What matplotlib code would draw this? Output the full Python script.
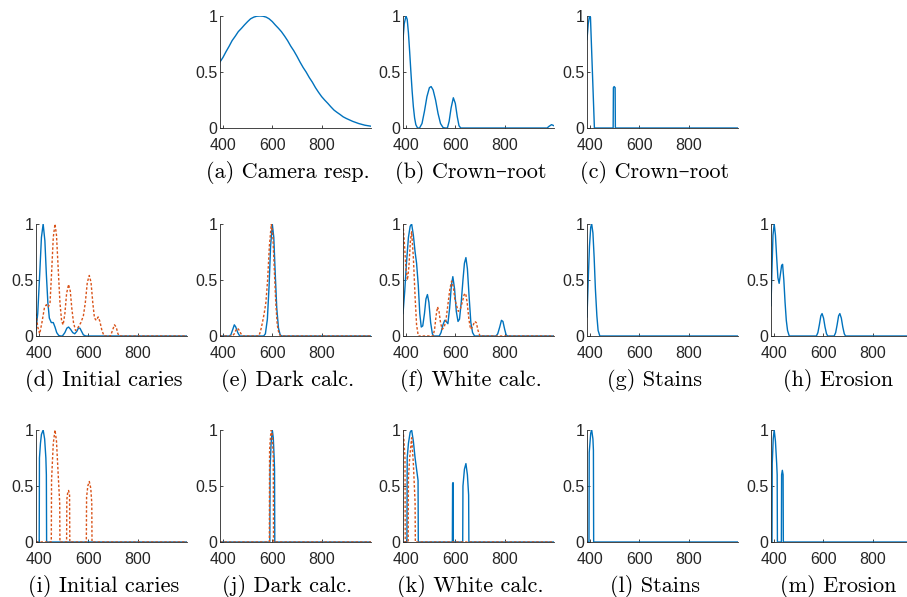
import matplotlib
matplotlib.use("Agg")
from matplotlib import pyplot as plt

# (a) camera response
wl_cam = [388, 400, 412, 425, 437, 450, 462, 475, 487, 500, 512, 525, 537, 550, 562, 575,
          587, 600, 612, 625, 637, 650, 662, 675, 687, 700, 712, 725, 737, 750, 762, 775,
          787, 800, 812, 825, 837, 850, 862, 875, 887, 900, 925, 950, 975, 1000]
cam_resp = [0.59, 0.63, 0.68, 0.73, 0.78, 0.82, 0.86, 0.89, 0.92, 0.95, 0.975, 0.99, 0.998,
            1.0, 0.998, 0.99, 0.975, 0.95, 0.92, 0.89, 0.86, 0.82, 0.78, 0.73, 0.69, 0.64,
            0.59, 0.54, 0.5, 0.45, 0.41, 0.36, 0.32, 0.28, 0.25, 0.22, 0.19, 0.16, 0.14,
            0.12, 0.1, 0.085, 0.06, 0.04, 0.025, 0.016]

# (b) crown-root
wl_crown = [388, 393, 400, 405, 410, 415, 420, 425, 430, 435, 440, 447, 455, 465, 475, 485,
            495, 502, 510, 520, 530, 540, 550, 558, 568, 575, 583, 592, 600, 608, 615, 622,
            972, 980, 990, 1000]
crown = [0.79, 0.93, 1.0, 0.97, 0.85, 0.68, 0.5, 0.33, 0.19, 0.09, 0.03, 0.0, 0.0, 0.04,
         0.15, 0.28, 0.36, 0.37, 0.34, 0.25, 0.13, 0.04, 0.005, 0.0, 0.0, 0.06, 0.18, 0.27,
         0.22, 0.1, 0.02, 0.0, 0.0, 0.015, 0.03, 0.02]

# (c) crown-root, selected bands
wl_crown_sel = [388, 393, 398, 402, 418, 494, 495, 498, 502, 503, 1000]
crown_sel = [0.79, 0.93, 1.0, 0.99, 0.0, 0.0, 0.36, 0.37, 0.36, 0.0, 0.0]

# (d) initial caries
wl_car_b = [388, 395, 403, 410, 417, 424, 430, 436, 442, 450, 458, 465, 472, 480, 488, 495,
            505, 513, 520, 528, 537, 545, 553, 560, 566, 573, 580, 590, 1000]
car_b = [0.05, 0.2, 0.55, 0.88, 1.0, 0.85, 0.55, 0.3, 0.16, 0.12, 0.12, 0.08, 0.03, 0.005,
         0.0, 0.0, 0.03, 0.07, 0.08, 0.06, 0.03, 0.02, 0.04, 0.07, 0.07, 0.04, 0.01, 0.0, 0.0]
wl_car_o = [388, 395, 403, 412, 422, 430, 438, 445, 452, 458, 465, 471, 478, 485, 492, 498,
            505, 512, 520, 527, 533, 540, 548, 555, 562, 570, 580, 588, 596, 604, 611, 618,
            625, 632, 640, 647, 655, 664, 690, 698, 706, 713, 720, 726, 1000]
car_o = [0.2, 0.08, 0.02, 0.12, 0.25, 0.28, 0.26, 0.3, 0.6, 0.88, 1.0, 0.9, 0.6, 0.3, 0.13,
         0.1, 0.2, 0.38, 0.46, 0.4, 0.25, 0.12, 0.05, 0.06, 0.09, 0.12, 0.18, 0.3, 0.48, 0.54,
         0.48, 0.3, 0.16, 0.14, 0.17, 0.13, 0.05, 0.0, 0.0, 0.05, 0.1, 0.08, 0.02, 0.0, 0.0]

# (e) dark calculus
wl_dark_b = [388, 425, 432, 440, 446, 452, 460, 468, 565, 572, 580, 587, 593, 600, 606, 612,
             618, 625, 632, 638, 1000]
dark_b = [0.0, 0.0, 0.01, 0.06, 0.1, 0.08, 0.03, 0.0, 0.0, 0.02, 0.15, 0.45, 0.8, 1.0, 0.88,
          0.55, 0.25, 0.07, 0.01, 0.0, 0.0]
wl_dark_o = [388, 438, 446, 452, 459, 466, 473, 480, 545, 552, 560, 567, 574, 581, 588, 596,
             602, 608, 614, 620, 627, 634, 1000]
dark_o = [0.0, 0.0, 0.02, 0.05, 0.07, 0.05, 0.02, 0.0, 0.0, 0.04, 0.12, 0.2, 0.3, 0.5, 0.8,
          1.0, 0.9, 0.6, 0.3, 0.1, 0.02, 0.0, 0.0]

# (f) white calculus
wl_white_b = [388, 395, 402, 410, 417, 423, 430, 437, 443, 450, 456, 462, 468, 475, 481, 487,
              493, 500, 507, 512, 535, 542, 550, 557, 563, 570, 577, 584, 590, 597, 604, 611,
              617, 624, 631, 637, 643, 649, 656, 663, 670, 678, 765, 772, 780, 787, 793, 800,
              806, 812, 1000]
white_b = [0.2, 0.4, 0.65, 0.88, 0.98, 1.0, 0.9, 0.75, 0.65, 0.45, 0.2, 0.08, 0.09, 0.2, 0.33,
           0.37, 0.3, 0.12, 0.02, 0.0, 0.0, 0.03, 0.1, 0.14, 0.13, 0.11, 0.25, 0.45, 0.53, 0.42,
           0.22, 0.13, 0.15, 0.3, 0.5, 0.65, 0.7, 0.6, 0.35, 0.12, 0.03, 0.0, 0.0, 0.02, 0.08,
           0.14, 0.13, 0.06, 0.01, 0.0, 0.0]
wl_white_o = [388, 393, 400, 406, 412, 418, 423, 430, 437, 443, 450, 510, 516, 522, 528, 534,
              540, 547, 555, 562, 570, 578, 585, 592, 598, 604, 612, 620, 628, 636, 642, 648,
              655, 662, 670, 678, 685, 692, 700, 1000]
white_o = [1.0, 0.85, 0.6, 0.5, 0.62, 0.85, 0.93, 0.7, 0.35, 0.1, 0.0, 0.0, 0.06, 0.18, 0.26,
           0.22, 0.12, 0.06, 0.08, 0.14, 0.28, 0.42, 0.49, 0.44, 0.33, 0.28, 0.22, 0.24, 0.3,
           0.37, 0.38, 0.3, 0.15, 0.06, 0.08, 0.13, 0.12, 0.05, 0.0, 0.0]

# (g) stains
wl_stain = [388, 393, 398, 403, 407, 412, 417, 422, 428, 433, 440, 1000]
stain = [0.17, 0.5, 0.8, 0.97, 1.0, 0.92, 0.7, 0.42, 0.18, 0.05, 0.0, 0.0]

# (h) erosion
wl_eros = [388, 392, 396, 401, 406, 411, 416, 421, 426, 431, 435, 440, 445, 450, 455, 462,
           572, 578, 584, 590, 595, 601, 607, 613, 618, 644, 650, 656, 662, 667, 673, 679,
           685, 690, 1000]
eros = [0.27, 0.6, 0.9, 1.0, 0.9, 0.7, 0.52, 0.47, 0.55, 0.63, 0.64, 0.5, 0.3, 0.14, 0.05,
        0.0, 0.0, 0.03, 0.1, 0.18, 0.2, 0.16, 0.08, 0.02, 0.0, 0.0, 0.03, 0.1, 0.18, 0.2,
        0.16, 0.08, 0.02, 0.0, 0.0]

# (i)-(m) selected bands
wl_car_sel_b = [388, 401, 402, 406, 410, 417, 423, 428, 430, 431, 1000]
car_sel_b = [0.0, 0.0, 0.75, 0.88, 0.96, 1.0, 0.92, 0.75, 0.6, 0.0, 0.0]
wl_car_sel_o = [388, 450, 451, 458, 465, 471, 478, 484, 485, 512, 513, 517, 520, 524, 525,
                592, 593, 598, 604, 610, 614, 615, 1000]
car_sel_o = [0.0, 0.0, 0.55, 0.88, 1.0, 0.9, 0.6, 0.35, 0.0, 0.0, 0.38, 0.45, 0.46, 0.42, 0.0,
             0.0, 0.4, 0.5, 0.54, 0.48, 0.35, 0.0, 0.0]

wl_dark_sel_b = [388, 590, 591, 595, 600, 604, 608, 609, 610, 1000]
dark_sel_b = [0.0, 0.0, 0.65, 0.88, 1.0, 0.93, 0.72, 0.65, 0.0, 0.0]
wl_dark_sel_o = [388, 588, 589, 593, 596, 600, 604, 605, 1000]
dark_sel_o = [0.0, 0.0, 0.82, 0.95, 1.0, 0.95, 0.75, 0.0, 0.0]

wl_white_sel_b = [388, 404, 405, 410, 417, 423, 430, 437, 443, 449, 450, 588, 589, 591, 592,
                  630, 631, 637, 643, 649, 654, 655, 1000]
white_sel_b = [0.0, 0.0, 0.75, 0.88, 0.98, 1.0, 0.9, 0.75, 0.65, 0.55, 0.0, 0.0, 0.52, 0.53,
               0.0, 0.0, 0.5, 0.65, 0.7, 0.6, 0.42, 0.0, 0.0]
wl_white_sel_o = [388, 392, 396, 397, 409, 410, 415, 423, 430, 437, 438, 1000]
white_sel_o = [1.0, 0.9, 0.75, 0.0, 0.0, 0.57, 0.75, 0.93, 0.7, 0.35, 0.0, 0.0]

wl_stain_sel = [388, 396, 397, 403, 407, 412, 414, 415, 1000]
stain_sel = [0.0, 0.0, 0.8, 0.97, 1.0, 0.92, 0.82, 0.0, 0.0]

wl_eros_sel = [388, 392, 393, 397, 401, 406, 411, 413, 414, 430, 431, 434, 437, 438, 1000]
eros_sel = [0.0, 0.0, 0.7, 0.92, 1.0, 0.9, 0.7, 0.6, 0.0, 0.0, 0.6, 0.64, 0.6, 0.0, 0.0]

BLUE = "#0072BD"
ORANGE = "#D95319"
W, H = 907, 597
AX_W, AX_H = 151, 112

plt.rcParams["font.family"] = ["Liberation Sans", "DejaVu Sans"]
fig = plt.figure(figsize=(W / 100, H / 100), dpi=100)


def panel(left, bottom, caption, blue, orange=None):
    ax = fig.add_axes([left / W, 1 - bottom / H, AX_W / W, AX_H / H])
    ax.plot(blue[0], blue[1], color=BLUE, lw=1.0)
    if orange is not None:
        ax.plot(orange[0], orange[1], color=ORANGE, lw=1.0, ls=(0, (1.8, 1.4)))
    ax.set_xlim(388, 1000)
    ax.set_ylim(0, 1)
    ax.set_xticks([400, 600, 800])
    ax.set_yticks([0, 0.5, 1])
    ax.set_yticklabels(["0", "0.5", "1"])
    for side in ["top", "right"]:
        ax.spines[side].set_visible(False)
    for side in ["left", "bottom"]:
        ax.spines[side].set_color("#262626")
        ax.spines[side].set_linewidth(0.6)
    ax.tick_params(direction="in", length=2.5, width=0.6, labelsize=11.5,
                   colors="#262626")
    ax.tick_params(axis="x", pad=7)
    ax.tick_params(axis="y", pad=2)
    fig.text((left + AX_W / 2 - 8) / W, 1 - (bottom + 44) / H, caption,
             ha="center", va="center", fontsize=16, family=["cmr10", "DejaVu Serif"])
    return ax


cols = [36, 220, 403, 587, 771]
rows = [128, 336, 542]

panel(cols[1], rows[0], "(a) Camera resp.", (wl_cam, cam_resp))
panel(cols[2], rows[0], "(b) Crown\u2013root", (wl_crown, crown))
panel(cols[3], rows[0], "(c) Crown\u2013root", (wl_crown_sel, crown_sel))

panel(cols[0], rows[1], "(d) Initial caries", (wl_car_b, car_b), (wl_car_o, car_o))
panel(cols[1], rows[1], "(e) Dark calc.", (wl_dark_b, dark_b), (wl_dark_o, dark_o))
panel(cols[2], rows[1], "(f) White calc.", (wl_white_b, white_b), (wl_white_o, white_o))
panel(cols[3], rows[1], "(g) Stains", (wl_stain, stain))
panel(cols[4], rows[1], "(h) Erosion", (wl_eros, eros))

panel(cols[0], rows[2], "(i) Initial caries", (wl_car_sel_b, car_sel_b), (wl_car_sel_o, car_sel_o))
panel(cols[1], rows[2], "(j) Dark calc.", (wl_dark_sel_b, dark_sel_b), (wl_dark_sel_o, dark_sel_o))
panel(cols[2], rows[2], "(k) White calc.", (wl_white_sel_b, white_sel_b), (wl_white_sel_o, white_sel_o))
panel(cols[3], rows[2], "(l) Stains", (wl_stain_sel, stain_sel))
panel(cols[4], rows[2], "(m) Erosion", (wl_eros_sel, eros_sel))

fig.savefig("out.png", dpi=100)
